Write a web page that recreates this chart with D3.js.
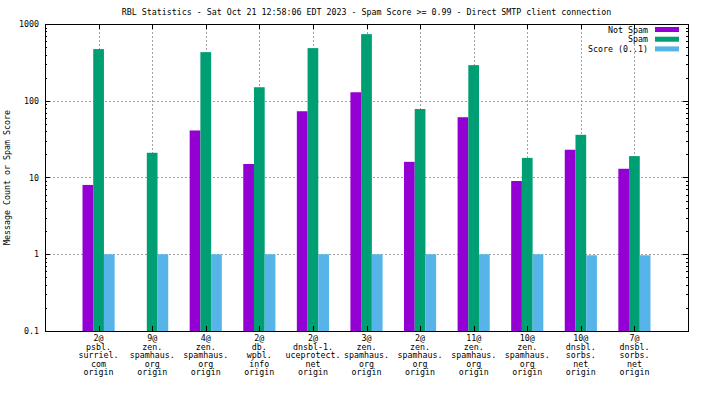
<!DOCTYPE html>
<html>
<head>
<meta charset="UTF-8">
<title>RBL Statistics</title>
<style>
    body { margin: 0; padding: 0; background: #fff; }
    svg { display: block; }
    text { font-family: "DejaVu Sans Mono", monospace; font-size: 8.3px; fill: #000; }
</style>
<script src="https://d3js.org/d3.v7.min.js"></script>
</head>
<body>
<script>
    const width = 704;
    const height = 396;

    const title = "RBL Statistics - Sat Oct 21 12:58:06 EDT 2023 - Spam Score >= 0.99 - Direct SMTP client connection";
    const yLabel = "Message Count or Spam Score";

    // one label per group, lines split on "\n"
    const categories = [
        "2@\npsbl.\nsurriel.\ncom\norigin",
        "9@\nzen.\nspamhaus.\norg\norigin",
        "4@\nzen.\nspamhaus.\norg\norigin",
        "2@\ndb.\nwpbl.\ninfo\norigin",
        "2@\ndnsbl-1.\nuceprotect.\nnet\norigin",
        "3@\nzen.\nspamhaus.\norg\norigin",
        "2@\nzen.\nspamhaus.\norg\norigin",
        "11@\nzen.\nspamhaus.\norg\norigin",
        "10@\nzen.\nspamhaus.\norg\norigin",
        "10@\ndnsbl.\nsorbs.\nnet\norigin",
        "7@\ndnsbl.\nsorbs.\nnet\norigin"
    ];

    const notSpam = [8, 0, 41, 15, 73, 129, 16, 61, 9, 23, 13];
    const spam = [471, 21, 430, 150, 485, 738, 78, 291, 18, 36, 19];
    const score = [1, 1, 1, 1, 1, 1, 1, 1, 1, 0.97, 0.97];

    const seriesNames = ["Not Spam", "Spam", "Score (0..1)"];
    const seriesColors = ["#9400d3", "#009e73", "#56b4e9"];
    const yTicks = [0.1, 1, 10, 100, 1000];

    const mLeft = 45, mRight = 688, mTop = 24, mBottom = 331;

    const x = d3.scaleLinear().domain([-1, categories.length]).range([mLeft, mRight]);
    const y = d3.scaleLog().domain([0.1, 1000]).range([mBottom, mTop]);

    const svg = d3.select("body").append("svg")
        .attr("width", width)
        .attr("height", height);

    // grid (behind the bars)
    const grid = svg.append("g")
        .attr("stroke", "#a0a0a0")
        .attr("stroke-width", 1)
        .attr("stroke-dasharray", "2,2");
    grid.selectAll(null)
        .data(yTicks.filter(d => d > 0.1 && d < 1000))
        .enter().append("line")
        .attr("x1", mLeft).attr("x2", mRight)
        .attr("y1", d => Math.round(y(d)) + 0.5)
        .attr("y2", d => Math.round(y(d)) + 0.5);
    grid.selectAll(null)
        .data(categories)
        .enter().append("line")
        .attr("x1", (d, i) => Math.round(x(i)) + 0.5)
        .attr("x2", (d, i) => Math.round(x(i)) + 0.5)
        .attr("y1", mTop).attr("y2", mBottom);

    // bars
    const series = [notSpam, spam, score];
    const barW = 0.2;
    series.forEach(function(vals, s) {
        const data = vals.map((v, i) => ({ i: i, v: v })).filter(d => d.v > 0);
        svg.append("g").selectAll("rect")
            .data(data)
            .enter().append("rect")
            .attr("x", d => x(d.i + (s - 1) * barW - barW / 2))
            .attr("width", x(barW) - x(0))
            .attr("y", d => y(d.v))
            .attr("height", d => mBottom - y(d.v))
            .attr("fill", seriesColors[s]);
    });

    // border
    svg.append("rect")
        .attr("x", mLeft + 0.5).attr("y", mTop + 0.5)
        .attr("width", mRight - mLeft).attr("height", mBottom - mTop)
        .attr("fill", "none").attr("stroke", "#000");

    // ticks, major and minor, mirrored
    const ticks = svg.append("g").attr("stroke", "#000");
    const minor = [];
    for (let e = -1; e < 3; e++) {
        for (let m = 2; m <= 9; m++) minor.push(m * Math.pow(10, e));
    }
    yTicks.forEach(function(t) {
        const yy = Math.round(y(t)) + 0.5;
        ticks.append("line").attr("x1", mLeft).attr("x2", mLeft + 5).attr("y1", yy).attr("y2", yy);
        ticks.append("line").attr("x1", mRight - 5).attr("x2", mRight).attr("y1", yy).attr("y2", yy);
    });
    minor.forEach(function(t) {
        const yy = Math.round(y(t)) + 0.5;
        ticks.append("line").attr("x1", mLeft).attr("x2", mLeft + 2).attr("y1", yy).attr("y2", yy);
        ticks.append("line").attr("x1", mRight - 2).attr("x2", mRight).attr("y1", yy).attr("y2", yy);
    });
    categories.forEach(function(c, i) {
        const xx = Math.round(x(i)) + 0.5;
        ticks.append("line").attr("x1", xx).attr("x2", xx).attr("y1", mTop).attr("y2", mTop + 5);
        ticks.append("line").attr("x1", xx).attr("x2", xx).attr("y1", mBottom - 5).attr("y2", mBottom);
    });

    // y tick labels
    svg.append("g").selectAll("text")
        .data(yTicks)
        .enter().append("text")
        .attr("x", 39)
        .attr("y", d => y(d) + 3)
        .attr("text-anchor", "end")
        .text(d => d === 0.1 ? "0.1" : String(d));

    // x labels
    svg.append("g").selectAll("text")
        .data(categories)
        .enter().append("text")
        .attr("text-anchor", "middle")
        .each(function(d, i) {
            d3.select(this).selectAll("tspan")
                .data(d.split("\n"))
                .enter().append("tspan")
                .attr("x", x(i))
                .attr("y", (l, j) => 341 + j * 8.5)
                .text(l => l);
        });

    // title
    svg.append("text")
        .attr("x", (mLeft + mRight) / 2)
        .attr("y", 15)
        .attr("text-anchor", "middle")
        .text(title);

    // y axis title
    svg.append("text")
        .attr("transform", "translate(10," + ((mTop + mBottom) / 2) + ") rotate(-90)")
        .attr("text-anchor", "middle")
        .text(yLabel);

    // legend
    const rowY = k => 29.5 + k * 9.7;
    const legend = svg.append("g");
    seriesNames.forEach(function(name, k) {
        legend.append("text")
            .attr("x", 648)
            .attr("y", rowY(k) + 3)
            .attr("text-anchor", "end")
            .text(name);
        legend.append("rect")
            .attr("x", 655).attr("y", rowY(k) - 2.5)
            .attr("width", 24).attr("height", 5)
            .attr("fill", seriesColors[k]);
    });
</script>
</body>
</html>
